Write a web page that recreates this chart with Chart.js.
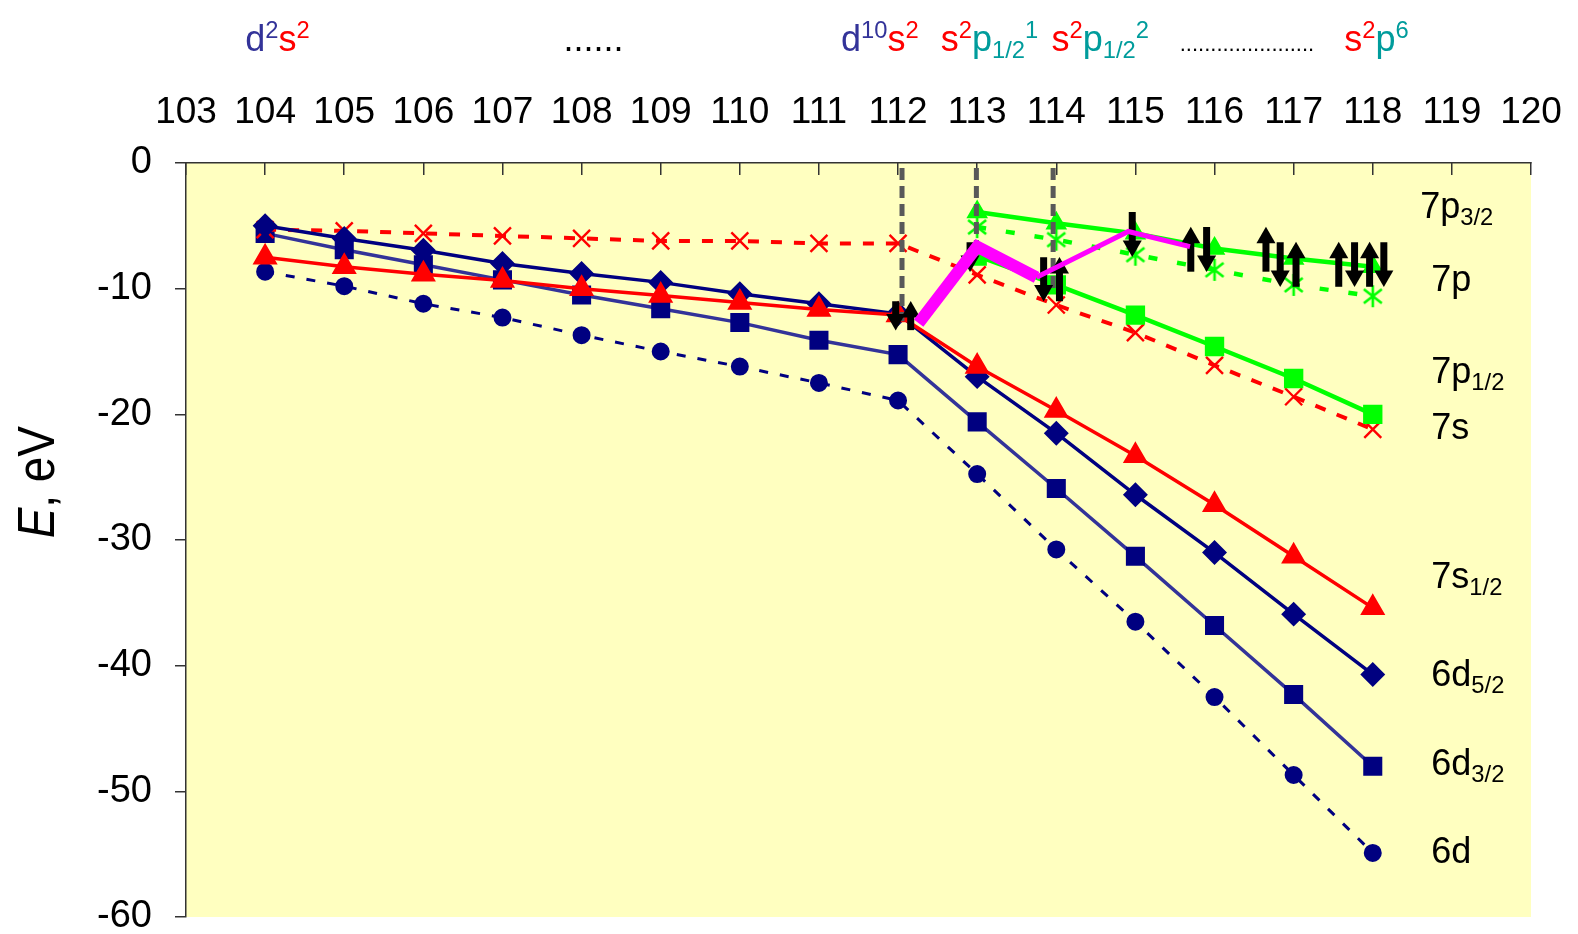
<!DOCTYPE html>
<html lang="en">
<head>
<meta charset="UTF-8">
<title>Orbital energies, Z = 104-118</title>
<script src="https://cdn.jsdelivr.net/npm/chart.js"></script>
<style>
  html, body { margin: 0; padding: 0; background: #fff; }
  #wrap { width: 1578px; height: 934px; }
</style>
</head>
<body>
<div id="wrap"><canvas id="chartE" width="1578" height="934"></canvas></div>
<script>
  // element numbers
  const Z  = [104, 105, 106, 107, 108, 109, 110, 111, 112, 113, 114, 115, 116, 117, 118];
  const Zp = [113, 114, 115, 116, 117, 118];

  // orbital energies, eV
  const E_6d52 = [-5.0, -6.0, -6.95, -8.0, -8.8, -9.5, -10.4, -11.2, -12.0, -17.0, -21.5, -26.4, -31.0, -35.9, -40.7];
  const E_6d32 = [-5.6, -6.9, -8.1, -9.3, -10.5, -11.6, -12.7, -14.1, -15.25, -20.6, -25.9, -31.3, -36.8, -42.3, -48.0];
  const E_6d   = [-8.65, -9.8, -11.2, -12.3, -13.7, -15.0, -16.2, -17.5, -18.9, -24.75, -30.75, -36.5, -42.5, -48.7, -54.9];
  const E_7s12 = [-7.5, -8.25, -8.85, -9.35, -10.0, -10.55, -11.1, -11.65, -12.1, -16.2, -19.7, -23.3, -27.2, -31.3, -35.4];
  const E_7s   = [-5.3, -5.4, -5.6, -5.8, -6.0, -6.2, -6.2, -6.4, -6.4, -8.9, -11.3, -13.5, -16.1, -18.6, -21.2];
  const E_7p32 = [-3.9, -4.8, -5.6, -6.8, -7.6, -8.25];
  const E_7p12 = [-7.4, -9.7, -12.1, -14.6, -17.15, -20.0];
  const E_7p   = [-5.1, -6.1, -7.3, -8.5, -9.7, -10.6];

  // ground-state path (magenta)
  const pathX1 = [112.26, 113.0, 113.75];
  const pathY1 = [-12.75, -6.65, -9.1];
  const pathX2 = [113.75, 114.91, 115.69];
  const pathY2 = [-9.1, -5.45, -6.65];

  // shell-closure markers (grey dashed)
  const shellX   = [112.05, 112.99, 113.96];
  const shellTop = -0.4;
  const shellBot = [-12.6, -6.8, -10.3];

  // electron spin arrows: x, tail, tip
  const arrowX    = [111.97, 112.16, 112.91, 113.84, 114.04, 114.96, 115.70, 115.90, 116.65, 116.83, 117.03, 117.57, 117.77, 117.96, 118.14];
  const arrowTail = [-11.0, -13.3, -6.3, -7.5, -11.0, -3.9, -8.65, -5.1, -8.65, -6.3, -9.85, -9.85, -6.3, -9.85, -6.3];
  const arrowTip  = [-13.3, -11.0, -8.65, -11.0, -7.5, -7.45, -5.1, -8.65, -5.1, -9.85, -6.3, -6.3, -9.85, -6.3, -9.85];

  const xMin = 103, xMax = 120, yMin = -60, yMax = 0, yStep = 10;

  const NAVY = '#000080', INDIGO = '#333399', RED = '#FF0000', GREEN = '#00FF00';
  const TEAL = '#009C9C', MAGENTA = '#FF00FF', GREY = '#595959';
  const FONT = '"Liberation Sans", Arial, sans-serif';

  const pts = (xs, ys) => xs.map((x, i) => ({ x, y: ys[i] }));

  // asterisk marker (x plus vertical bar)
  const star = document.createElement('canvas');
  star.width = 24; star.height = 24;
  (function () {
    const c = star.getContext('2d');
    c.strokeStyle = GREEN; c.lineWidth = 2.6;
    c.beginPath();
    c.moveTo(3, 5); c.lineTo(21, 19);
    c.moveTo(21, 5); c.lineTo(3, 19);
    c.moveTo(12, 1); c.lineTo(12, 23);
    c.stroke();
  })();

  const datasets = [];

  // magenta on top
  datasets.push({ data: pts(pathX1, pathY1), borderColor: MAGENTA, borderWidth: 12, pointRadius: 0, order: 0 });
  datasets.push({ data: pts(pathX2, pathY2), borderColor: MAGENTA, borderWidth: 5, pointRadius: 0, order: 0 });

  // arrows
  const headR = 11, headLen = 0.85;
  arrowX.forEach((x, i) => {
    const down = arrowTip[i] < arrowTail[i];
    const head = arrowTip[i] + (down ? headLen : -headLen);
    datasets.push({
      data: [{ x, y: arrowTail[i] }, { x, y: head }],
      borderColor: '#000', backgroundColor: '#000', borderWidth: 7, borderCapStyle: 'butt',
      pointStyle: 'triangle', pointRadius: [0, headR], pointRotation: [0, down ? 180 : 0],
      pointBorderWidth: 0, order: 1
    });
  });

  // grey dashed
  shellX.forEach((x, i) => {
    datasets.push({
      data: [{ x, y: shellTop }, { x, y: shellBot[i] }],
      borderColor: GREY, borderWidth: 5, borderDash: [12, 6], pointRadius: 0, order: 2
    });
  });

  // orbital series
  datasets.push(
    { data: pts(Zp, E_7p12), borderColor: GREEN, backgroundColor: GREEN, borderWidth: 4.5, pointStyle: 'rect', pointRadius: 10.5, order: 3 },
    { data: pts(Zp, E_7p32), borderColor: GREEN, backgroundColor: GREEN, borderWidth: 4.5, pointStyle: 'triangle', pointRadius: 8, order: 3 },
    { data: pts(Zp, E_7p), borderColor: GREEN, backgroundColor: GREEN, borderWidth: 4.5, borderDash: [9, 20], pointStyle: star, pointRadius: 11, order: 4 },
    { data: pts(Z, E_7s12), borderColor: RED, backgroundColor: RED, borderWidth: 3.5, pointStyle: 'triangle', pointRadius: 11, order: 5 },
    { data: pts(Z, E_6d52), borderColor: NAVY, backgroundColor: NAVY, borderWidth: 3.5, pointStyle: 'rectRot', pointRadius: 10, order: 6 },
    { data: pts(Z, E_7s), borderColor: RED, backgroundColor: RED, borderWidth: 4, borderDash: [11, 12], pointStyle: 'crossRot', pointRadius: 12, pointBorderWidth: 2.4, order: 7 },
    { data: pts(Z, E_6d32), borderColor: INDIGO, backgroundColor: NAVY, pointBorderColor: NAVY, borderWidth: 3.5, pointStyle: 'rect', pointRadius: 11, order: 8 },
    { data: pts(Z, E_6d), borderColor: NAVY, backgroundColor: NAVY, borderWidth: 3, borderDash: [9, 12], pointStyle: 'circle', pointRadius: 7.5, order: 9 }
  );

  // text with super/subscripts
  function drawRich(ctx, x, y, parts, size) {
    let cx = x;
    for (const [txt, col, pos] of parts) {
      const s = pos ? size * 0.66 : size;
      const dy = pos === 'sup' ? -size * 0.36 : pos === 'sub' ? size * 0.2 : 0;
      ctx.font = `${s}px ${FONT}`;
      ctx.fillStyle = col;
      ctx.fillText(txt, cx, y + dy);
      cx += ctx.measureText(txt).width;
    }
  }

  const topLabels = [
    { x: 103.75, size: 36, parts: [['d', INDIGO], ['2', INDIGO, 'sup'], ['s', RED], ['2', RED, 'sup']] },
    { x: 107.77, size: 36, parts: [['......', '#000']] },
    { x: 111.28, size: 36, parts: [['d', INDIGO], ['10', INDIGO, 'sup'], ['s', RED], ['2', RED, 'sup']] },
    { x: 112.54, size: 36, parts: [['s', RED], ['2', RED, 'sup'], ['p', TEAL], ['1/2', TEAL, 'sub'], ['1', TEAL, 'sup']] },
    { x: 113.94, size: 36, parts: [['s', RED], ['2', RED, 'sup'], ['p', TEAL], ['1/2', TEAL, 'sub'], ['2', TEAL, 'sup']] },
    { x: 115.56, size: 22, parts: [['......................', '#000']] },
    { x: 117.64, size: 36, parts: [['s', RED], ['2', RED, 'sup'], ['p', TEAL], ['6', TEAL, 'sup']] }
  ];

  const sideLabels = [
    { x: 118.6,  y: -4.4,  parts: [['7p', '#000'], ['3/2', '#000', 'sub']] },
    { x: 118.74, y: -10.2, parts: [['7p', '#000']] },
    { x: 118.74, y: -17.5, parts: [['7p', '#000'], ['1/2', '#000', 'sub']] },
    { x: 118.74, y: -22.0, parts: [['7s', '#000']] },
    { x: 118.74, y: -33.8, parts: [['7s', '#000'], ['1/2', '#000', 'sub']] },
    { x: 118.74, y: -41.6, parts: [['6d', '#000'], ['5/2', '#000', 'sub']] },
    { x: 118.74, y: -48.7, parts: [['6d', '#000'], ['3/2', '#000', 'sub']] },
    { x: 118.74, y: -55.7, parts: [['6d', '#000']] }
  ];

  const decor = {
    id: 'decor',
    beforeDraw(chart) {
      const { ctx, chartArea: a } = chart;
      ctx.save();
      ctx.fillStyle = '#FFFFC0';
      ctx.fillRect(a.left, a.top, a.right - a.left, a.bottom - a.top);
      ctx.restore();
    },
    afterDraw(chart) {
      const { ctx, chartArea: a, scales: { x, y } } = chart;
      ctx.save();
      ctx.textBaseline = 'alphabetic';
      ctx.textAlign = 'left';
      topLabels.forEach(l => drawRich(ctx, x.getPixelForValue(l.x), a.top - 112, l.parts, l.size));
      sideLabels.forEach(l => drawRich(ctx, x.getPixelForValue(l.x), y.getPixelForValue(l.y), l.parts, 36));

      // axis title: E, eV (narrow face, like the original)
      ctx.translate(54, y.getPixelForValue(-25.4));
      ctx.rotate(-Math.PI / 2);
      ctx.scale(0.9, 1);
      ctx.fillStyle = '#000';
      ctx.font = `italic 51px ${FONT}`;
      const w1 = ctx.measureText('E').width;
      ctx.font = `51px ${FONT}`;
      const w2 = ctx.measureText(', eV').width;
      const sx = -(w1 + w2) / 2;
      ctx.font = `italic 51px ${FONT}`;
      ctx.fillText('E', sx, 0);
      ctx.font = `51px ${FONT}`;
      ctx.fillText(', eV', sx + w1, 0);
      ctx.restore();
    }
  };

  new Chart(document.getElementById('chartE'), {
    type: 'line',
    data: { datasets },
    options: {
      responsive: false,
      animation: false,
      layout: { padding: { left: 0, top: 0, right: 47, bottom: 17 } },
      plugins: { legend: { display: false }, tooltip: { enabled: false } },
      elements: { line: { tension: 0, fill: false } },
      scales: {
        x: {
          type: 'linear', position: 'top', min: xMin, max: xMax,
          afterFit(s) { s.height = 163; s.paddingLeft = 0; s.paddingRight = 0; },
          ticks: { stepSize: 1, autoSkip: false, maxRotation: 0, padding: 40, color: '#000',
                   font: { family: FONT, size: 37 } },
          grid: { drawOnChartArea: false, drawTicks: true, tickLength: -12, color: '#333', lineWidth: 1.5 },
          border: { color: '#333', width: 1.5 }
        },
        y: {
          min: yMin, max: yMax,
          afterFit(s) { s.width = 186; s.paddingTop = 0; s.paddingBottom = 0; },
          ticks: { stepSize: yStep, padding: 23, color: '#000', font: { family: FONT, size: 38 } },
          grid: { drawOnChartArea: false, drawTicks: true, tickLength: 11, color: '#333', lineWidth: 1.5 },
          border: { color: '#333', width: 1.5 }
        }
      }
    },
    plugins: [decor]
  });
</script>
</body>
</html>
